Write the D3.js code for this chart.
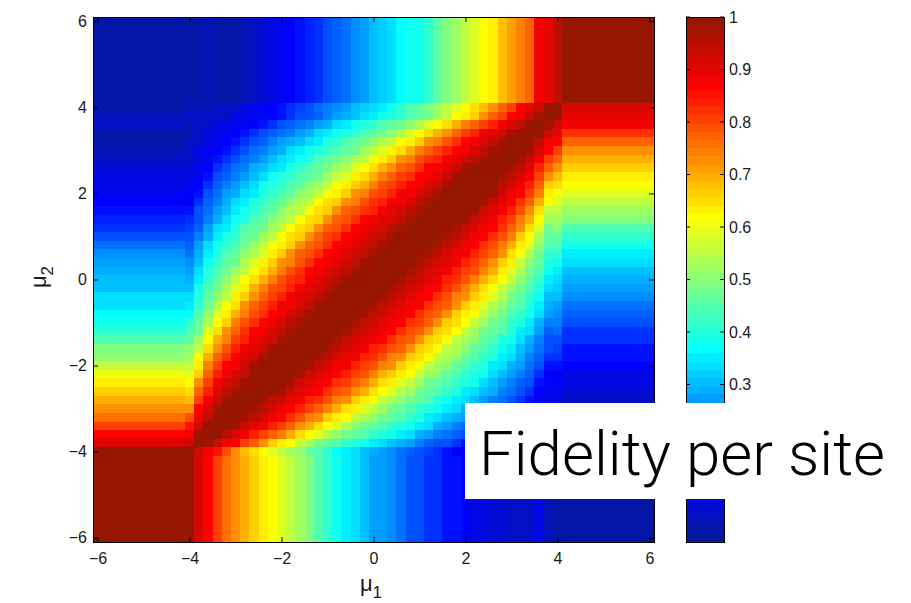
<!DOCTYPE html>
<html>
<head>
<meta charset="utf-8">
<script src="https://cdn.jsdelivr.net/npm/d3@7/dist/d3.min.js"></script>
<style>
  html, body { margin: 0; background: #fff; }
  svg { display: block; }
  .tick text, .cb-label { font-family: "Liberation Sans", Arial, Helvetica, sans-serif; font-size: 16px; fill: #1a1a1a; }
  .axis-title { font-family: "Liberation Sans", Arial, Helvetica, sans-serif; fill: #1a1a1a; }
</style>
</head>
<body>
<svg id="chart" width="911" height="603"></svg>
<script>
// Chemical-potential grid shared by both axes (mu1 columns, mu2 rows)
const mu1 = [-6,-5.8,-5.6,-5.4,-5.2,-5,-4.8,-4.6,-4.4,-4.2,-4,-3.8,-3.6,-3.4,-3.2,-3,-2.8,-2.6,-2.4,-2.2,-2,-1.8,-1.6,-1.4,-1.2,-1,-0.8,-0.6,-0.4,-0.2,0,0.2,0.4,0.6,0.8,1,1.2,1.4,1.6,1.8,2,2.2,2.4,2.6,2.8,3,3.2,3.4,3.6,3.8,4,4.2,4.4,4.6,4.8,5,5.2,5.4,5.6,5.8,6];
const mu2 = mu1.slice().reverse(); // rows below are listed from mu2 = 6 down to mu2 = -6

// Fidelity per site (percent). One string per mu2 row, one entry per mu1 column.
const fidelityRows = [
"2 2 2 2 2 2 2 2 2 2 2 2 4 3 3 3 4 5 7 8 10 12 13 15 17 19 21 23 26 28 30 32 34 36 38 39 42 46 49 52 55 58 61 64 68 71 74 78 88 90 94 99 99 99 99 99 99 99 99 99 99",
"2 2 2 2 2 2 2 2 2 2 2 2 4 3 3 3 4 5 7 8 10 12 13 15 17 19 21 23 26 28 30 32 34 36 38 39 42 46 49 52 55 58 61 64 68 71 74 78 88 90 94 99 99 99 99 99 99 99 99 99 99",
"2 2 2 2 2 2 2 2 2 2 2 2 4 3 3 3 4 5 7 8 10 12 13 15 17 19 21 23 26 28 30 32 34 36 38 39 42 46 49 52 55 58 61 64 68 71 74 78 88 90 94 99 99 99 99 99 99 99 99 99 99",
"2 2 2 2 2 2 2 2 2 2 2 2 4 3 3 3 4 5 7 8 10 12 13 15 17 19 21 23 26 28 30 32 34 36 38 39 42 46 49 52 55 58 61 64 68 71 74 78 88 90 94 99 99 99 99 99 99 99 99 99 99",
"2 2 2 2 2 2 2 2 2 2 2 2 4 3 3 3 4 5 7 8 10 12 13 15 17 19 21 23 26 28 30 32 34 36 38 39 42 46 49 52 55 58 61 64 68 71 74 78 88 90 94 99 99 99 99 99 99 99 99 99 99",
"2 2 2 2 2 2 2 2 2 2 2 2 4 3 3 3 4 5 7 8 10 12 13 15 17 19 21 23 26 28 30 32 34 36 38 39 42 46 49 52 55 58 61 64 68 71 74 78 88 90 94 99 99 99 99 99 99 99 99 99 99",
"2 2 2 2 2 2 2 2 2 2 2 2 4 3 3 3 4 5 7 8 10 12 13 15 17 19 21 23 26 28 30 32 34 36 38 39 42 46 49 52 55 58 61 64 68 71 74 78 88 90 94 99 99 99 99 99 99 99 99 99 99",
"2 2 2 2 2 2 2 2 2 2 2 2 4 3 3 3 4 5 7 8 10 12 13 15 17 19 21 23 26 28 30 32 34 36 38 39 42 46 49 52 55 58 61 64 68 71 74 78 88 90 94 99 99 99 99 99 99 99 99 99 99",
"2 2 2 2 2 2 2 2 2 2 2 2 4 3 3 3 4 5 7 8 10 12 13 15 17 19 21 23 26 28 30 32 34 36 38 39 42 46 49 52 55 58 61 64 68 71 74 78 88 90 94 99 99 99 99 99 99 99 99 99 99",
"2 2 2 2 2 2 2 2 2 2 2 2 4 3 3 3 4 5 7 8 10 12 13 15 17 19 21 23 26 28 30 32 34 36 38 39 42 46 49 52 55 58 61 64 68 71 74 78 88 90 94 99 99 99 99 99 99 99 99 99 99",
"3 3 3 3 3 3 3 3 3 3 4 4 4 5 6 6 8 10 11 12 14 16 18 20 22 24 26 28 30 32 34 35 38 41 44 46 49 52 56 58 62 65 68 72 77 81 86 90 93 99 99 91 91 91 91 91 91 91 91 91 91",
"4 4 4 4 4 4 4 4 4 4 5 5 6 6 6 8 8 10 10 12 14 16 19 19 21 24 27 29 31 33 35 38 40 42 44 46 48 52 56 61 63 67 72 77 81 86 89 93 98 99 99 90 90 90 90 90 90 90 90 90 90",
"6 6 6 6 6 6 6 6 6 6 4 6 6 8 8 10 10 12 14 16 19 21 22 24 27 29 33 35 38 40 42 44 46 48 50 54 58 61 65 70 74 77 81 84 89 91 95 99 99 98 93 88 88 88 88 88 88 88 88 88 88",
"2 2 2 2 2 2 2 2 2 2 4 6 8 8 10 12 14 16 19 21 22 24 27 29 33 35 38 40 42 44 46 48 50 54 58 61 65 70 72 77 81 84 88 90 93 97 99 99 99 93 90 82 82 82 82 82 82 82 82 82 82",
"2 2 2 2 2 2 2 2 2 2 5 6 8 10 12 14 16 19 21 24 27 29 31 33 35 40 42 44 46 48 50 54 56 61 63 67 72 74 79 82 86 89 91 95 98 99 99 99 95 89 86 77 77 77 77 77 77 77 77 77 77",
"4 4 4 4 4 4 4 4 4 4 6 8 10 12 14 16 19 22 24 27 29 33 35 38 40 42 44 46 48 52 56 58 63 65 70 74 77 81 84 86 89 91 95 98 99 99 99 97 91 86 81 73 73 73 73 73 73 73 73 73 73",
"5 5 5 5 5 5 5 5 5 5 6 8 10 14 16 19 22 24 27 31 33 35 38 40 44 46 48 50 54 56 61 63 67 72 74 79 82 84 88 90 93 95 98 99 99 99 98 93 89 81 78 70 70 70 70 70 70 70 70 70 70",
"7 7 7 7 7 7 7 7 7 7 7 10 12 16 19 22 24 29 31 33 35 40 42 44 46 48 52 54 58 61 65 70 72 77 79 82 86 88 90 93 97 99 99 99 99 98 95 90 84 77 72 67 67 67 67 67 67 67 67 67 67",
"8 8 8 8 8 8 8 8 8 8 9 10 14 19 21 24 27 31 33 38 40 42 44 46 48 52 56 58 63 65 70 74 77 81 82 86 89 90 93 97 99 99 99 99 98 95 91 88 81 72 68 64 64 64 64 64 64 64 64 64 64",
"9 9 9 9 9 9 9 9 9 9 10 12 16 21 24 27 31 33 38 40 42 44 46 50 52 56 61 63 67 70 74 79 81 84 86 89 91 93 97 99 99 99 99 99 95 91 89 84 77 67 65 62 62 62 62 62 62 62 62 62 62",
"10 10 10 10 10 10 10 10 10 10 12 14 19 22 27 29 33 35 40 42 44 46 50 52 56 61 63 67 72 74 79 81 84 88 89 91 95 97 99 99 99 99 99 97 93 89 86 81 74 63 62 58 58 58 58 58 58 58 58 58 58",
"12 12 12 12 12 12 12 12 12 12 12 16 21 24 29 33 35 40 42 44 46 50 54 56 61 65 67 72 74 79 82 84 88 89 91 95 97 99 99 99 99 99 97 93 90 86 82 77 70 61 58 55 55 55 55 55 55 55 55 55 55",
"13 13 13 13 13 13 13 13 13 13 14 19 22 27 31 35 38 42 44 46 50 54 56 61 65 67 72 77 79 82 84 88 90 91 95 97 99 99 99 99 99 97 93 90 88 84 79 72 65 56 56 52 52 52 52 52 52 52 52 52 52",
"15 15 15 15 15 15 15 15 15 15 16 19 24 29 33 38 40 44 46 50 52 56 61 65 67 72 77 79 82 86 88 90 91 95 98 99 99 99 99 99 97 93 90 88 84 81 74 70 61 52 52 49 49 49 49 49 49 49 49 49 49",
"17 17 17 17 17 17 17 17 17 17 18 21 27 33 35 40 44 46 48 52 56 61 65 67 72 77 79 82 86 88 90 91 95 98 99 99 99 99 99 97 95 91 89 86 82 77 72 65 58 48 50 45 45 45 45 45 45 45 45 45 45",
"20 20 20 20 20 20 20 20 20 20 20 24 29 35 40 42 46 48 52 56 61 65 67 72 77 81 82 86 88 90 93 95 98 99 99 99 99 99 97 95 91 89 86 82 79 74 67 61 54 46 46 41 41 41 41 41 41 41 41 41 41",
"23 23 23 23 23 23 23 23 23 23 21 27 33 38 42 44 48 52 56 61 63 67 72 77 79 82 86 88 90 93 95 98 99 99 99 99 99 98 95 91 89 86 82 79 74 70 63 58 50 44 44 38 38 38 38 38 38 38 38 38 38",
"25 25 25 25 25 25 25 25 25 25 23 29 35 40 44 46 50 54 58 63 67 72 77 79 82 86 88 90 93 95 98 99 99 99 99 99 98 95 91 89 88 84 81 77 72 65 61 54 48 42 42 35 35 35 35 35 35 35 35 35 35",
"27 27 27 27 27 27 27 27 27 27 26 31 38 42 46 48 54 58 63 67 72 74 79 82 86 88 90 93 95 98 99 99 99 99 99 98 95 91 90 88 84 81 77 72 67 63 56 50 46 40 38 33 33 33 33 33 33 33 33 33 33",
"29 29 29 29 29 29 29 29 29 29 27 33 40 44 48 52 56 61 65 70 74 79 82 86 88 90 93 95 98 99 99 99 99 99 98 95 91 90 88 84 81 79 74 70 63 58 54 48 44 38 35 31 31 31 31 31 31 31 31 31 31",
"30 30 30 30 30 30 30 30 30 30 29 35 42 46 50 56 61 65 70 74 79 82 84 88 90 93 95 98 99 99 99 99 99 98 95 93 90 88 84 82 79 74 70 65 61 56 50 46 42 35 34 29 29 29 29 29 29 29 29 29 29",
"31 31 31 31 31 31 31 31 31 31 31 38 44 48 54 58 63 70 74 79 81 84 88 90 91 95 98 99 99 99 99 99 98 95 93 90 88 86 82 79 74 70 65 61 56 52 48 44 40 33 32 27 27 27 27 27 27 27 27 27 27",
"33 33 33 33 33 33 33 33 33 33 33 40 46 50 56 63 67 72 77 81 84 88 90 91 95 98 99 99 99 99 99 98 95 93 90 88 86 82 79 74 72 67 63 58 54 48 46 42 38 31 30 25 25 25 25 25 25 25 25 25 25",
"34 34 34 34 34 34 34 34 34 34 35 42 48 54 61 65 72 77 81 84 88 89 91 95 98 99 99 99 99 99 98 95 93 90 88 86 82 79 77 72 67 63 58 54 50 46 44 40 35 29 28 23 23 23 23 23 23 23 23 23 23",
"37 37 37 37 37 37 37 37 37 37 37 44 50 58 63 70 74 79 82 86 89 91 95 98 99 99 99 99 99 98 95 93 90 88 86 82 79 77 72 67 63 61 56 52 48 44 42 38 33 27 26 21 21 21 21 21 21 21 21 21 21",
"38 38 38 38 38 38 38 38 38 38 42 46 54 61 67 74 79 82 86 89 91 95 97 99 99 99 99 99 98 95 93 90 88 86 82 81 77 72 67 65 61 56 52 48 46 42 40 35 29 24 24 19 19 19 19 19 19 19 19 19 19",
"41 41 41 41 41 41 41 41 41 41 44 48 58 65 72 77 82 86 89 91 95 97 99 99 99 99 99 98 95 91 90 88 86 82 79 77 72 67 65 61 56 52 48 46 44 40 35 33 27 21 22 17 17 17 17 17 17 17 17 17 17",
"45 45 45 45 45 45 45 45 45 45 46 52 61 70 74 81 84 88 90 93 97 99 99 99 99 99 98 95 91 90 88 86 82 79 77 72 67 65 61 56 52 50 46 44 40 38 33 29 24 19 20 16 16 16 16 16 16 16 16 16 16",
"49 49 49 49 49 49 49 49 49 49 50 56 65 72 79 84 88 90 93 97 99 99 99 99 99 97 95 91 90 88 84 82 79 77 72 67 65 61 56 54 50 46 44 42 38 35 31 27 22 19 18 14 14 14 14 14 14 14 14 14 14",
"51 51 51 51 51 51 51 51 51 51 52 61 70 77 82 86 90 93 97 99 99 99 99 99 97 95 91 89 88 84 82 79 74 72 67 65 61 56 54 50 46 44 42 40 35 33 29 24 21 16 16 13 13 13 13 13 13 13 13 13 13",
"55 55 55 55 55 55 55 55 55 55 55 63 74 81 86 89 93 97 99 99 99 99 99 97 95 91 89 88 84 81 79 74 72 67 63 61 56 52 50 46 44 42 40 35 33 29 27 22 19 14 14 11 11 11 11 11 11 11 11 11 11",
"60 60 60 60 60 60 60 60 60 60 58 67 77 84 89 91 95 99 99 99 99 99 97 93 91 89 86 84 81 79 74 70 67 63 61 56 52 50 46 44 42 40 38 33 31 27 24 21 16 12 12 9 9 9 9 9 9 9 9 9 9",
"63 63 63 63 63 63 63 63 63 63 62 72 81 88 91 95 98 99 99 99 99 97 93 90 89 86 82 81 77 74 70 65 63 58 56 52 48 46 44 42 40 38 33 31 27 24 21 19 14 10 12 8 8 8 8 8 8 8 8 8 8",
"66 66 66 66 66 66 66 66 66 66 65 77 84 90 95 98 99 99 99 99 97 93 90 88 86 82 79 77 72 70 65 61 58 54 52 48 46 44 42 40 35 33 31 29 24 22 19 16 12 10 10 7 7 7 7 7 7 7 7 7 7",
"70 70 70 70 70 70 70 70 70 70 68 81 89 93 98 99 99 99 98 95 93 90 88 84 82 79 74 72 67 63 61 56 54 50 48 46 44 40 38 35 33 31 27 24 22 19 16 14 10 8 8 6 6 6 6 6 6 6 6 6 6",
"73 73 73 73 73 73 73 73 73 73 73 86 91 97 99 99 99 98 95 91 89 86 84 81 77 74 70 65 63 58 56 52 48 46 44 42 40 38 35 33 29 27 24 22 19 16 14 12 10 8 6 5 5 5 5 5 5 5 5 5 5",
"76 76 76 76 76 76 76 76 76 76 79 89 95 99 99 99 98 95 91 89 86 82 79 74 72 67 63 61 56 54 50 48 46 44 42 40 35 33 31 29 27 24 21 19 16 14 12 10 8 6 6 5 5 5 5 5 5 5 5 5 5",
"80 80 80 80 80 80 80 80 80 80 85 93 99 99 99 97 93 90 88 84 81 77 72 70 65 61 58 54 50 48 46 44 42 40 38 35 33 29 27 24 22 21 19 16 14 12 10 8 8 6 6 4 4 4 4 4 4 4 4 4 4",
"87 87 87 87 87 87 87 87 87 87 89 98 99 99 95 91 89 84 81 77 74 70 65 61 58 54 50 48 46 44 42 40 38 35 33 29 27 24 22 21 19 16 14 12 10 10 8 8 6 6 4 6 6 6 6 6 6 6 6 6 6",
"91 91 91 91 91 91 91 91 91 91 93 99 98 93 89 86 81 77 72 67 63 61 56 52 48 46 44 42 40 38 35 33 31 29 27 24 21 19 19 16 14 12 10 10 8 8 6 6 6 5 4 4 4 4 4 4 4 4 4 4 4",
"99 99 99 99 99 99 99 99 99 99 99 93 89 85 79 73 68 65 62 58 55 52 50 46 44 42 37 35 33 31 29 27 26 23 21 20 18 16 14 12 12 10 9 7 6 6 5 4 4 5 4 3 3 3 3 3 3 3 3 3 3",
"99 99 99 99 99 99 99 99 99 99 99 91 87 80 76 73 70 67 64 61 58 55 52 49 45 42 38 35 33 30 28 27 25 23 20 19 17 16 14 13 11 9 8 7 7 6 6 5 8 4 3 3 3 3 3 3 3 3 3 3 3",
"99 99 99 99 99 99 99 99 99 99 99 91 87 80 76 73 70 67 64 61 58 55 52 49 45 42 38 35 33 30 28 27 25 23 20 19 17 16 14 13 11 9 8 7 7 6 6 5 8 4 3 3 3 3 3 3 3 3 3 3 3",
"99 99 99 99 99 99 99 99 99 99 99 91 87 80 76 73 70 67 64 61 58 55 52 49 45 42 38 35 33 30 28 27 25 23 20 19 17 16 14 13 11 9 8 7 7 6 6 5 8 4 3 3 3 3 3 3 3 3 3 3 3",
"99 99 99 99 99 99 99 99 99 99 99 91 87 80 76 73 70 67 64 61 58 55 52 49 45 42 38 35 33 30 28 27 25 23 20 19 17 16 14 13 11 9 8 7 7 6 6 5 8 4 3 3 3 3 3 3 3 3 3 3 3",
"99 99 99 99 99 99 99 99 99 99 99 91 87 80 76 73 70 67 64 61 58 55 52 49 45 42 38 35 33 30 28 27 25 23 20 19 17 16 14 13 11 9 8 7 7 6 6 5 8 4 3 3 3 3 3 3 3 3 3 3 3",
"99 99 99 99 99 99 99 99 99 99 99 91 87 80 76 73 70 67 64 61 58 55 52 49 45 42 38 35 33 30 28 27 25 23 20 19 17 16 14 13 11 9 8 7 7 6 6 5 8 4 3 3 3 3 3 3 3 3 3 3 3",
"99 99 99 99 99 99 99 99 99 99 99 91 87 80 76 73 70 67 64 61 58 55 52 49 45 42 38 35 33 30 28 27 25 23 20 19 17 16 14 13 11 9 8 7 7 6 6 5 8 4 3 3 3 3 3 3 3 3 3 3 3",
"99 99 99 99 99 99 99 99 99 99 99 91 87 80 76 73 70 67 64 61 58 55 52 49 45 42 38 35 33 30 28 27 25 23 20 19 17 16 14 13 11 9 8 7 7 6 6 5 8 4 3 3 3 3 3 3 3 3 3 3 3",
"99 99 99 99 99 99 99 99 99 99 99 91 87 80 76 73 70 67 64 61 58 55 52 49 45 42 38 35 33 30 28 27 25 23 20 19 17 16 14 13 11 9 8 7 7 6 6 5 8 4 3 3 3 3 3 3 3 3 3 3 3",
"99 99 99 99 99 99 99 99 99 99 99 91 87 80 76 73 70 67 64 61 58 55 52 49 45 42 38 35 33 30 28 27 25 23 20 19 17 16 14 13 11 9 8 7 7 6 6 5 8 4 3 3 3 3 3 3 3 3 3 3 3"
];

const axisTicks = [-6, -4, -2, 0, 2, 4, 6];
// colorbar ticks left uncovered by the caption box
const colorbarTicks = [0.3, 0.4, 0.5, 0.6, 0.7, 0.8, 0.9, 1];
const titleText = "Fidelity per site";

// ---- layout ----
const plot = { left: 93, right: 654, top: 17, bottom: 542 };
const bar = { left: 686, right: 724, top: 17, bottom: 542 };
const halfStep = 0.1;

// Jet-style colormap with m entries; the two dark ends are lifted a little
// (deep navy and brick red rather than pure dark blue / maroon)
function jetColormap(m) {
  const n = Math.ceil(m / 4);
  const u = [];
  for (let i = 1; i <= n; i++) u.push(i / n);
  for (let i = 1; i < n; i++) u.push(1);
  for (let i = n; i >= 1; i--) u.push(i / n);
  const gOff = Math.ceil(n / 2) - (m % 4 === 1 ? 1 : 0);
  const out = [];
  for (let k = 1; k <= m; k++) {
    const L = k - 1;
    let g = u[k - gOff - 1] ?? 0;
    let r = u[k - gOff - n - 1] ?? 0;
    let b = u[k - gOff + n - 1] ?? 0;
    if (L >= m - 8) {               // dark-red tail
      const t = (L - (m - 9)) / 8;   // 0..1 along the tail
      r = 1 - t * 0.41;
      g = 0.085 * t;
    }
    if (L < 8) {                    // dark-blue head
      const t = (7 - L) / 7;
      g = 0.1 * t;
      b = 0.6 + (1 - 0.6) * (1 - t);
      r = 0.02 * t;
    }
    out.push(d3.rgb(255 * r, 255 * g, 255 * b).formatHex());
  }
  return out;
}
const jet = jetColormap(64);
const color = d3.scaleQuantize().domain([0, 1]).range(jet);

const svg = d3.select("#chart");
const x = d3.scaleLinear().domain([-6.1, 6.1]).range([plot.left, plot.right]);
const y = d3.scaleLinear().domain([-6.1, 6.1]).range([plot.bottom, plot.top]);

// ---- heatmap cells ----
const cells = [];
fidelityRows.forEach((row, r) => {
  row.trim().split(/\s+/).map(Number).forEach((p, c) => {
    cells.push({ m1: mu1[c], m2: mu2[r], v: p / 100 });
  });
});

svg.append("g")
  .attr("shape-rendering", "crispEdges")
  .selectAll("rect")
  .data(cells)
  .join("rect")
  .attr("x", d => x(d.m1 - halfStep))
  .attr("y", d => y(d.m2 + halfStep))
  .attr("width", d => x(d.m1 + halfStep) - x(d.m1 - halfStep))
  .attr("height", d => y(d.m2 - halfStep) - y(d.m2 + halfStep))
  .attr("fill", d => color(d.v));

// ---- axes (ticks point inward on all four sides) ----
const fmt = d3.format("d");
function styleAxis(g) {
  g.attr("color", "#000");
  g.select(".domain").remove();
  g.selectAll(".tick line").attr("stroke-width", 1);
}
svg.append("g").attr("transform", `translate(0,${plot.bottom})`)
  .call(d3.axisBottom(x).tickValues(axisTicks).tickFormat(fmt).tickSizeInner(-5).tickSizeOuter(0).tickPadding(11))
  .call(styleAxis);
svg.append("g").attr("transform", `translate(0,${plot.top})`)
  .call(d3.axisTop(x).tickValues(axisTicks).tickFormat(() => "").tickSizeInner(-5).tickSizeOuter(0))
  .call(styleAxis);
svg.append("g").attr("transform", `translate(${plot.left},0)`)
  .call(d3.axisLeft(y).tickValues(axisTicks).tickFormat(fmt).tickSizeInner(-5).tickSizeOuter(0).tickPadding(6))
  .call(styleAxis);
svg.append("g").attr("transform", `translate(${plot.right},0)`)
  .call(d3.axisRight(y).tickValues(axisTicks).tickFormat(() => "").tickSizeInner(-5).tickSizeOuter(0))
  .call(styleAxis);

svg.append("rect")
  .attr("x", plot.left).attr("y", plot.top)
  .attr("width", plot.right - plot.left).attr("height", plot.bottom - plot.top)
  .attr("fill", "none").attr("stroke", "#000").attr("stroke-width", 1)
  .attr("shape-rendering", "crispEdges");

// ---- axis titles ----
const xTitle = svg.append("text").attr("class", "axis-title")
  .attr("x", 371).attr("y", 591).attr("text-anchor", "middle");
xTitle.append("tspan").attr("font-size", 22).text("μ");
xTitle.append("tspan").attr("font-size", 17).attr("dy", 7).text("1");

const yTitle = svg.append("text").attr("class", "axis-title")
  .attr("transform", "translate(46,277) rotate(-90)").attr("text-anchor", "middle");
yTitle.append("tspan").attr("font-size", 22).text("μ");
yTitle.append("tspan").attr("font-size", 17).attr("dy", 7).text("2");

// ---- colorbar ----
const cb = d3.scaleLinear().domain([0, 1]).range([bar.bottom, bar.top]);
svg.append("g")
  .attr("shape-rendering", "crispEdges")
  .selectAll("rect")
  .data(jet)
  .join("rect")
  .attr("x", bar.left)
  .attr("width", bar.right - bar.left)
  .attr("y", (c, i) => cb((i + 1) / jet.length))
  .attr("height", (c, i) => cb(i / jet.length) - cb((i + 1) / jet.length))
  .attr("fill", c => c);

svg.append("rect")
  .attr("x", bar.left).attr("y", bar.top)
  .attr("width", bar.right - bar.left).attr("height", bar.bottom - bar.top)
  .attr("fill", "none").attr("stroke", "#000").attr("stroke-width", 1)
  .attr("shape-rendering", "crispEdges");

const cbTicks = svg.append("g").selectAll("g").data(colorbarTicks).join("g");
cbTicks.append("line")
  .attr("x1", bar.left).attr("x2", bar.left + 4)
  .attr("y1", d => cb(d)).attr("y2", d => cb(d))
  .attr("stroke", "#000");
cbTicks.append("line")
  .attr("x1", bar.right - 4).attr("x2", bar.right)
  .attr("y1", d => cb(d)).attr("y2", d => cb(d))
  .attr("stroke", "#000");
cbTicks.append("text").attr("class", "cb-label")
  .attr("x", bar.right + 5).attr("y", d => cb(d)).attr("dy", "0.35em")
  .text(d => String(d));

// ---- caption box (drawn last, over the plot and colorbar) ----
svg.append("rect")
  .attr("x", 465).attr("y", 403).attr("width", 446).attr("height", 96)
  .attr("fill", "#fff");
svg.append("text")
  .attr("x", 479).attr("y", 475)
  .attr("font-family", "'Helvetica Neue', Roboto, 'Liberation Sans', Arial, sans-serif")
  .attr("font-weight", 300)
  .attr("font-size", 62)
  .attr("textLength", 406)
  .attr("lengthAdjust", "spacingAndGlyphs")
  .attr("fill", "#000")
  .text(titleText);
</script>
</body>
</html>
